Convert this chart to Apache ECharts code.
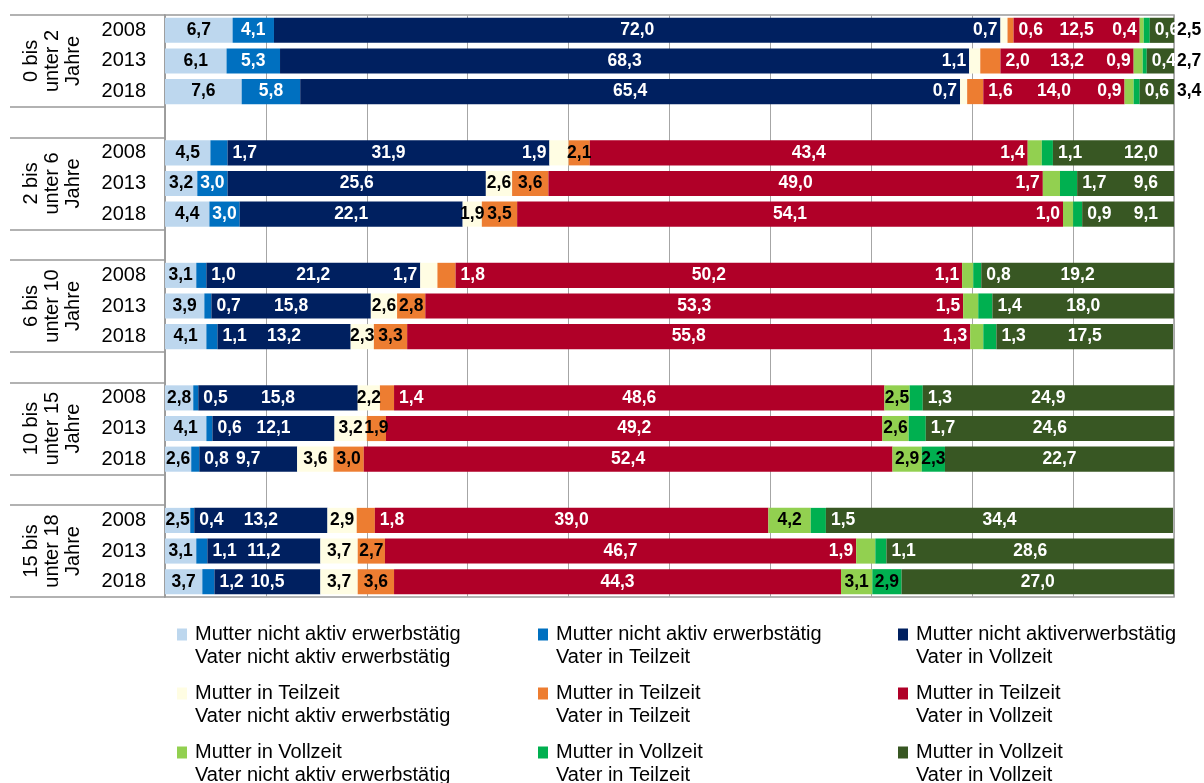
<!DOCTYPE html>
<html>
<head>
<meta charset="utf-8">
<script src="https://cdn.jsdelivr.net/npm/echarts@6/dist/echarts.min.js"></script>
<style>
  html, body { margin: 0; padding: 0; background: #fff; }
  #chart { width: 1204px; height: 783px; }
</style>
</head>
<body>
<div id="chart"></div>
<script>
const groups = ['0 bis\nunter 2\nJahre', '2 bis\nunter 6\nJahre', '6 bis\nunter 10\nJahre', '10 bis\nunter 15\nJahre', '15 bis\nunter 18\nJahre'];
const years = ['2008', '2013', '2018'];

const seriesNames = [
    'Mutter nicht aktiv erwerbstätig\nVater nicht aktiv erwerbstätig',
    'Mutter nicht aktiv erwerbstätig\nVater in Teilzeit',
    'Mutter nicht aktiverwerbstätig\nVater in Vollzeit',
    'Mutter in Teilzeit\nVater nicht aktiv erwerbstätig',
    'Mutter in Teilzeit\nVater in Teilzeit',
    'Mutter in Teilzeit\nVater in Vollzeit',
    'Mutter in Vollzeit\nVater nicht aktiv erwerbstätig',
    'Mutter in Vollzeit\nVater in Teilzeit',
    'Mutter in Vollzeit\nVater in Vollzeit'
]

// values per series, order: group (0-2 ... 15-18) x year (2008, 2013, 2018)
const mNichtVNicht = [6.7, 6.1, 7.6, 4.5, 3.2, 4.4, 3.1, 3.9, 4.1, 2.8, 4.1, 2.6, 2.5, 3.1, 3.7]
const mNichtVTeil = [4.1, 5.3, 5.8, 1.7, 3.0, 3.0, 1.0, 0.7, 1.1, 0.5, 0.6, 0.8, 0.4, 1.1, 1.2]
const mNichtVVoll = [72.0, 68.3, 65.4, 31.9, 25.6, 22.1, 21.2, 15.8, 13.2, 15.8, 12.1, 9.7, 13.2, 11.2, 10.5]
const mTeilVNicht = [0.7, 1.1, 0.7, 1.9, 2.6, 1.9, 1.7, 2.6, 2.3, 2.2, 3.2, 3.6, 2.9, 3.7, 3.7]
const mTeilVTeil = [0.6, 2.0, 1.6, 2.1, 3.6, 3.5, 1.8, 2.8, 3.3, 1.4, 1.9, 3.0, 1.8, 2.7, 3.6]
const mTeilVVoll = [12.5, 13.2, 14.0, 43.4, 49.0, 54.1, 50.2, 53.3, 55.8, 48.6, 49.2, 52.4, 39.0, 46.7, 44.3]
const mVollVNicht = [0.4, 0.9, 0.9, 1.4, 1.7, 1.0, 1.1, 1.5, 1.3, 2.5, 2.6, 2.9, 4.2, 1.9, 3.1]
const mVollVTeil = [0.6, 0.4, 0.6, 1.1, 1.7, 0.9, 0.8, 1.4, 1.3, 1.3, 1.7, 2.3, 1.5, 1.1, 2.9]
const mVollVVoll = [2.5, 2.7, 3.4, 12.0, 9.6, 9.1, 19.2, 18.0, 17.5, 24.9, 24.6, 22.7, 34.4, 28.6, 27.0]

const seriesValues = [mNichtVNicht, mNichtVTeil, mNichtVVoll, mTeilVNicht, mTeilVTeil, mTeilVVoll, mVollVNicht, mVollVTeil, mVollVVoll]

const colors = ['#bdd7ee', '#0070c0', '#002060', '#fffde3', '#ed7d31', '#b00028', '#92d050', '#00b050', '#385723']
// label colour when the label sits centered in its own segment
const centerLabelColors = ['#000', '#fff', '#fff', '#000', '#000', '#fff', '#000', '#000', '#fff']

// label placement per bar row, one char per series:
// c = centered, l = left of segment, r = right of segment, R = inside right end
const labelPlacement = [
    'ccclrclrr', 'ccclrclrr', 'ccclrclrr',
    'crclcclrR', 'cccccclrR', 'cccccclrR',
    'crclrclrc', 'crcccclrc', 'crcccclrc',
    'crccrccrc', 'crcccccrc', 'crccccccc',
    'crccrccrc', 'crcccclrc', 'crccccccc'
]

function fontOk(name) {
    const ctx = document.createElement('canvas').getContext('2d')
    const s = 'Mutter 0123456789,'
    ctx.font = 'bold 20px monospace'
    const a = ctx.measureText(s).width
    ctx.font = 'bold 20px "' + name + '", monospace'
    const b = ctx.measureText(s).width
    return a !== b
}
const narrow = fontOk('Liberation Sans Narrow')
const labelFont = narrow ? 'Liberation Sans Narrow' : 'Liberation Sans'
const labelSize = narrow ? 19 : 17.5

// category keys: 3 years per group, a blank row between groups
const cats = []
groups.forEach((g, gi) => {
    years.forEach(y => cats.push(gi + '|' + y))
    if (gi < groups.length - 1) cats.push('gap' + gi)
})
const boundaryIdx = [0, 3, 4, 7, 8, 11, 12, 15, 16]

const gridColor = '#a6a6a6'

function itemLabel(si, row) {
    const p = labelPlacement[row][si]
    if (p === 'c') return { position: 'inside', color: centerLabelColors[si] }
    if (p === 'l') return { position: 'left', distance: 3, color: '#fff' }
    if (p === 'R') return { position: 'insideRight', distance: 16, color: '#fff' }
    return { position: 'right', distance: si === 8 ? 3 : 5, color: si === 8 ? '#000' : '#fff' }
}

const series = seriesValues.map((vals, si) => {
    const data = []
    let row = 0
    groups.forEach((g, gi) => {
        years.forEach(() => {
            data.push({ value: vals[row], label: itemLabel(si, row) })
            row++
        })
        if (gi < groups.length - 1) data.push('-')
    })
    return {
        name: seriesNames[si],
        type: 'bar',
        stack: 'total',
        barWidth: '82%',
        itemStyle: { color: colors[si] },
        label: {
            show: true,
            fontFamily: labelFont,
            fontWeight: 'bold',
            fontSize: labelSize,
            formatter: (p) => p.value.toFixed(1).replace('.', ',')
        },
        data
    }
})

// legend in 3 columns; a blank first line keeps the marker level with "Mutter ..."
const legendCols = [177, 538, 898].map((left, ci) => ({
    orient: 'vertical',
    left,
    top: 600,
    height: 200,
    padding: 0,
    itemWidth: 10,
    itemHeight: 12,
    itemGap: -10,
    icon: 'rect',
    selectedMode: false,
    formatter: (name) => ' \n' + name,
    textStyle: {
        fontFamily: 'Liberation Sans',
        fontSize: 20,
        color: '#000',
        lineHeight: 23,
        padding: [0, 0, 0, 3]
    },
    data: [seriesNames[ci], seriesNames[ci + 3], seriesNames[ci + 6]]
}))

const chart = echarts.init(document.getElementById('chart'), null, { renderer: 'canvas' })
chart.setOption({
    animation: false,
    backgroundColor: '#fff',
    grid: {
        left: 165, right: 30, top: 15, bottom: 186,
        show: true,
        borderColor: '#999',
        borderWidth: 1.5
    },
    legend: legendCols,
    xAxis: {
        type: 'value',
        min: 0,
        max: 100,
        interval: 10,
        axisLabel: { show: false },
        axisLine: { show: false },
        axisTick: { show: false },
        splitLine: { lineStyle: { color: gridColor, width: 1 } }
    },
    yAxis: {
        type: 'category',
        inverse: true,
        data: cats,
        axisLine: { show: true, lineStyle: { color: '#999', width: 1.5 } },
        axisTick: {
            show: true,
            length: 155,
            interval: (idx) => boundaryIdx.includes(idx),
            lineStyle: { color: '#999', width: 1.5 }
        },
        axisLabel: {
            interval: 0,
            margin: 19,
            fontFamily: 'Liberation Sans',
            fontSize: 20,
            color: '#000',
            formatter: (v) => v.startsWith('gap') ? '' : v.split('|')[1]
        }
    },
    series
})

// rotated group labels, centered on each group's middle row
const groupText = groups.map((g, gi) => {
    const y = chart.convertToPixel({ yAxisIndex: 0 }, cats[gi * 4 + 1])
    return {
        type: 'text',
        x: 52,
        y,
        rotation: Math.PI / 2,
        style: {
            text: g,
            fontFamily: 'Liberation Sans',
            fontSize: 20,
            lineHeight: 21,
            fill: '#000',
            align: 'center',
            verticalAlign: 'middle'
        }
    }
})
chart.setOption({ graphic: groupText })
</script>
</body>
</html>
